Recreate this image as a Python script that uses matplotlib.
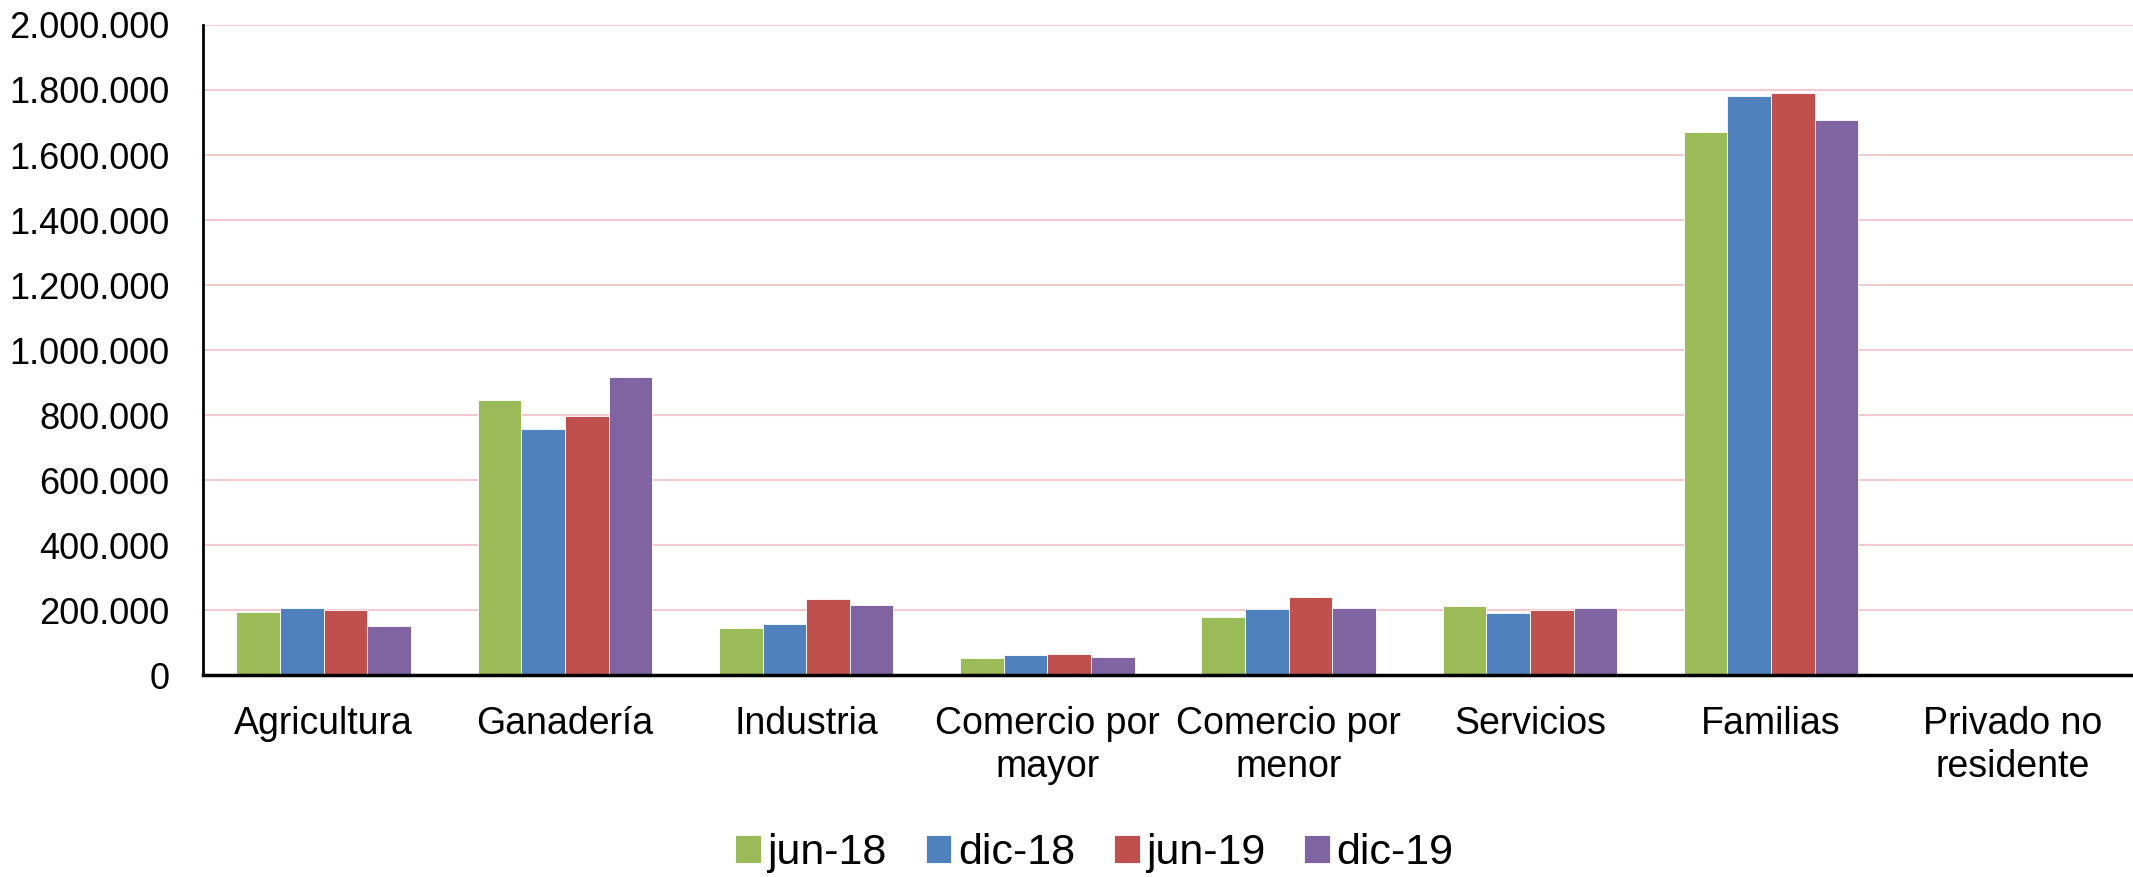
import numpy as np
import matplotlib
matplotlib.use("Agg")
import matplotlib.pyplot as plt
from matplotlib.ticker import FuncFormatter

plt.rcParams['font.family'] = ['Liberation Sans', 'DejaVu Sans']

# datos
categorias = ["Agricultura", "Ganadería", "Industria", "Comercio por\nmayor",
              "Comercio por\nmenor", "Servicios", "Familias", "Privado no\nresidente"]
series = ["jun-18", "dic-18", "jun-19", "dic-19"]
jun18 = [195000, 846000, 146000, 51000, 180000, 211000, 1670000, 0]
dic18 = [207000, 757000, 157000, 61000, 202000, 191000, 1782000, 0]
jun19 = [199000, 797000, 235000, 65000, 241000, 200000, 1790000, 0]
dic19 = [150000, 916000, 214000, 55000, 205000, 207000, 1709000, 0]
colores = ["#9BBB59", "#4F81BD", "#C0504D", "#8064A2"]

fig = plt.figure(figsize=(21.33, 8.77), dpi=100)
ax = fig.add_axes([0.0952, 0.2303, 0.9048, 0.7412])

x = np.arange(len(categorias))
ancho = 0.181
valores = [jun18, dic18, jun19, dic19]
for i, (nombre, vals) in enumerate(zip(series, valores)):
    ax.bar(x + (i - 1.5) * ancho, vals, width=ancho, color=colores[i],
           edgecolor="white", linewidth=0.6, label=nombre, zorder=3)

ax.set_xlim(-0.5, len(categorias) - 0.5)
ax.set_ylim(0, 2000000)
ax.set_yticks(np.arange(0, 2000001, 200000))
ax.yaxis.set_major_formatter(FuncFormatter(lambda v, p: f"{int(v):,}".replace(",", ".")))
ax.set_xticks(x)
ax.set_xticklabels(categorias, fontsize=27, linespacing=1.25)
ax.tick_params(axis="y", labelsize=26, length=0, pad=24)
ax.tick_params(axis="x", length=0, pad=22)

ax.grid(axis="y", color="#F2CACF", linewidth=1.5, zorder=0)
for s in ["top", "right"]:
    ax.spines[s].set_visible(False)
ax.spines["left"].set_linewidth(2)
ax.spines["bottom"].set_linewidth(2.5)
ax.spines["bottom"].set_zorder(4)

handles, labels = ax.get_legend_handles_labels()
fig.legend(handles, labels, loc="center", bbox_to_anchor=(0.513, 0.027), ncol=4,
           frameon=False, fontsize=31, handlelength=0.6, handleheight=0.6,
           handletextpad=0.15, columnspacing=0.9)

fig.savefig("out.png", dpi=100)
